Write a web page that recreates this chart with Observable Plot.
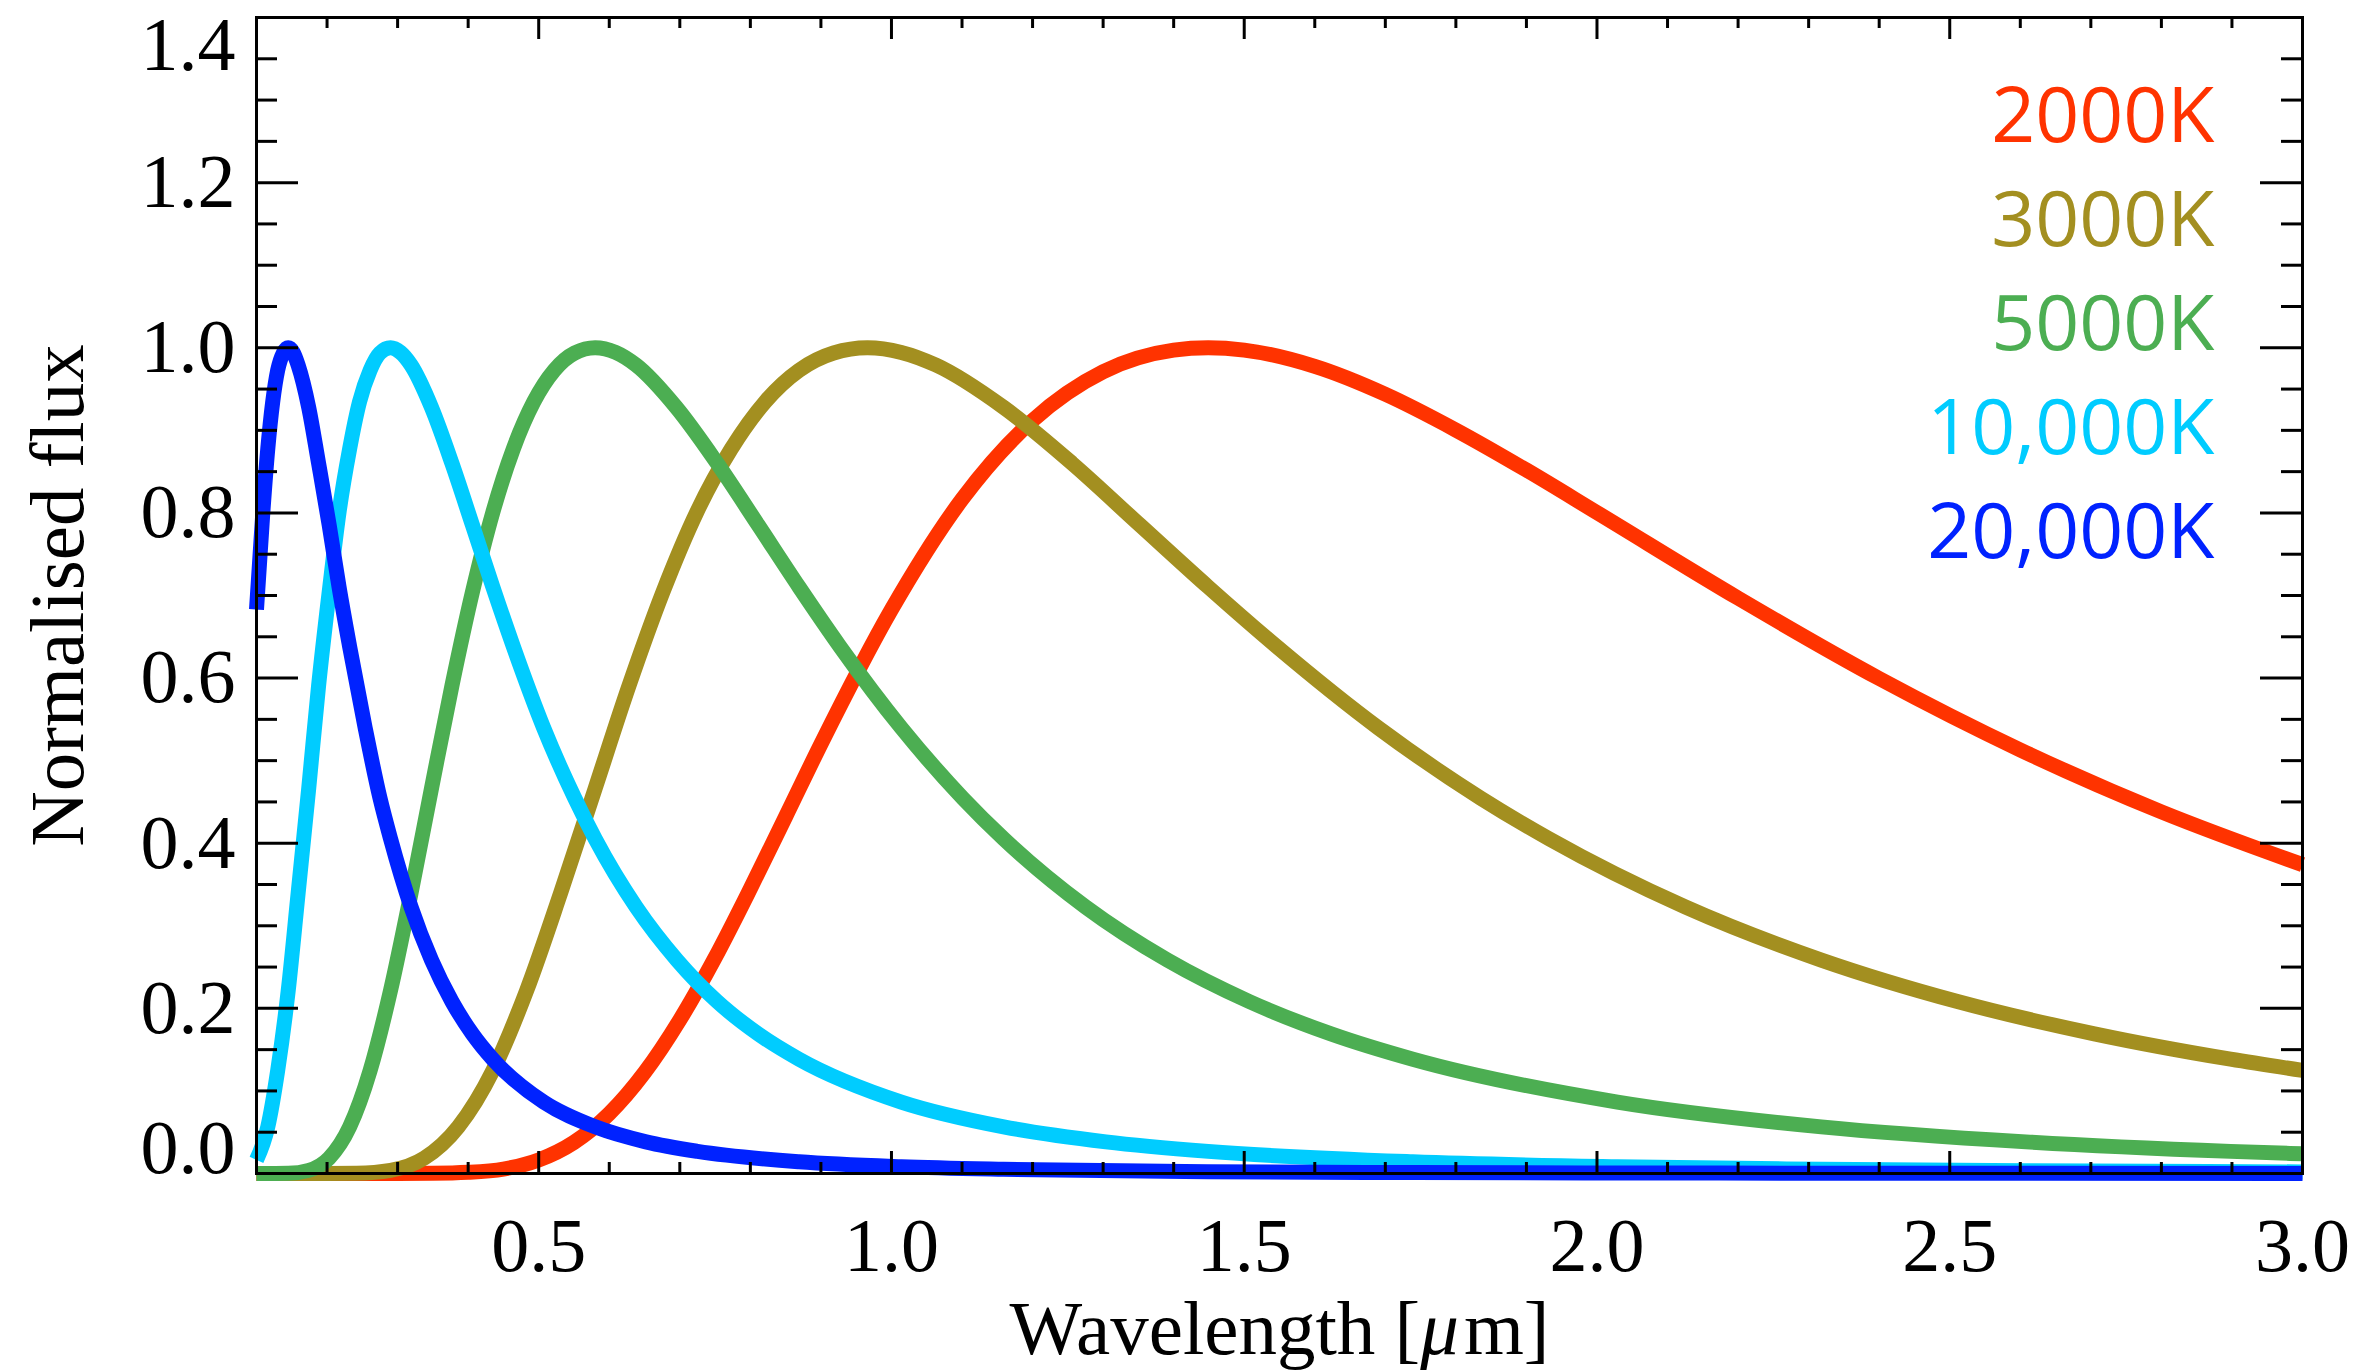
<!DOCTYPE html>
<html>
<head>
<meta charset="utf-8">
<script src="https://cdn.jsdelivr.net/npm/d3@7"></script>
<script src="https://cdn.jsdelivr.net/npm/@observablehq/plot@0.6"></script>
<style>
  html, body { margin: 0; padding: 0; background: #fff; }
  #chart svg { display: block; }
</style>
</head>
<body>
<div id="chart"></div>
<script>
// ---- Data ----
const temperatures = ["2000K", "3000K", "5000K", "10,000K", "20,000K"];
const seriesColors = ["#ff3300", "#a38f20", "#4cae52", "#00ccff", "#0022ff"];

const wl2000   = [0.10, 0.20, 0.30, 0.35, 0.40, 0.45, 0.50, 0.55, 0.60, 0.65, 0.70, 0.75, 0.80, 0.85, 0.90, 1.00, 1.10, 1.20, 1.30, 1.40, 1.449, 1.50, 1.60, 1.70, 1.80, 1.90, 2.00, 2.20, 2.40, 2.60, 2.80, 3.00];
const flux2000 = [0.0, 0.0, 0.0, 0.0002, 0.0014, 0.0054, 0.0164, 0.0377, 0.0725, 0.1222, 0.186, 0.2614, 0.345, 0.4322, 0.520, 0.683, 0.8165, 0.912, 0.971, 0.9971, 1.0, 0.9972, 0.9775, 0.9437, 0.9004, 0.8519, 0.8004, 0.6968, 0.5995, 0.513, 0.438, 0.374];

const wl3000   = [0.100, 0.200, 0.242, 0.290, 0.338, 0.386, 0.435, 0.483, 0.531, 0.580, 0.628, 0.676, 0.724, 0.773, 0.821, 0.869, 0.918, 0.966, 1.014, 1.063, 1.159, 1.256, 1.352, 1.449, 1.546, 1.690, 1.835, 1.932, 2.125, 2.318, 2.511, 2.705, 2.898, 3.000];
const flux3000 = [0.0, 0.0, 0.0003, 0.0038, 0.0187, 0.0565, 0.1246, 0.2218, 0.3395, 0.4663, 0.5908, 0.7041, 0.8009, 0.8777, 0.9346, 0.9727, 0.9937, 1.0, 0.9944, 0.9791, 0.9278, 0.8601, 0.7855, 0.7103, 0.6382, 0.5397, 0.4547, 0.4054, 0.3229, 0.2585, 0.2083, 0.1691, 0.1384, 0.1248];

const wl5000   = [0.100, 0.145, 0.174, 0.203, 0.232, 0.261, 0.290, 0.319, 0.348, 0.377, 0.406, 0.435, 0.464, 0.493, 0.522, 0.551, 0.580, 0.609, 0.638, 0.695, 0.753, 0.811, 0.869, 0.927, 1.014, 1.101, 1.159, 1.275, 1.391, 1.507, 1.623, 1.739, 2.029, 2.318, 2.608, 2.898, 3.000];
const flux5000 = [0.0, 0.0003, 0.0038, 0.0187, 0.0565, 0.1246, 0.2218, 0.3395, 0.4663, 0.5908, 0.7041, 0.8009, 0.8777, 0.9346, 0.9727, 0.9937, 1.0, 0.9944, 0.9791, 0.9278, 0.8601, 0.7855, 0.7103, 0.6382, 0.5397, 0.4547, 0.4054, 0.3229, 0.2585, 0.2083, 0.1691, 0.1384, 0.0865, 0.0565, 0.0383, 0.0268, 0.0238];

const wl10000   = [0.100, 0.116, 0.130, 0.145, 0.159, 0.174, 0.188, 0.203, 0.217, 0.232, 0.246, 0.261, 0.275, 0.290, 0.304, 0.319, 0.348, 0.377, 0.406, 0.435, 0.464, 0.507, 0.551, 0.580, 0.638, 0.696, 0.753, 0.811, 0.869, 1.014, 1.159, 1.304, 1.449, 1.739, 2.029, 2.318, 2.608, 3.000];
const flux10000 = [0.0164, 0.0565, 0.1246, 0.2218, 0.3395, 0.4663, 0.5908, 0.7041, 0.8009, 0.8777, 0.9346, 0.9727, 0.9937, 1.0, 0.9944, 0.9791, 0.9278, 0.8601, 0.7855, 0.7103, 0.6382, 0.5397, 0.4547, 0.4054, 0.3229, 0.2585, 0.2083, 0.1691, 0.1384, 0.0865, 0.0565, 0.0383, 0.0268, 0.0142, 0.0082, 0.0051, 0.0033, 0.0019];

const wl20000   = [0.100, 0.109, 0.116, 0.123, 0.130, 0.138, 0.145, 0.152, 0.159, 0.174, 0.188, 0.203, 0.217, 0.232, 0.254, 0.275, 0.290, 0.319, 0.348, 0.377, 0.406, 0.435, 0.507, 0.580, 0.652, 0.725, 0.869, 1.014, 1.159, 1.449, 1.739, 2.173, 3.000];
const flux20000 = [0.683, 0.8009, 0.8777, 0.9346, 0.9727, 0.9937, 1.0, 0.9944, 0.9791, 0.9278, 0.8601, 0.7855, 0.7103, 0.6382, 0.5397, 0.4547, 0.4054, 0.3229, 0.2585, 0.2083, 0.1691, 0.1384, 0.0865, 0.0565, 0.0383, 0.0268, 0.0142, 0.0082, 0.0051, 0.0022, 0.0011, 0.0005, 0.0001];

const xTickLabels = [0.5, 1.0, 1.5, 2.0, 2.5, 3.0];
const xMinorTicks = [0.2, 0.3, 0.4, 0.6, 0.7, 0.8, 0.9, 1.1, 1.2, 1.3, 1.4, 1.6, 1.7, 1.8, 1.9, 2.1, 2.2, 2.3, 2.4, 2.6, 2.7, 2.8, 2.9];
const yTickLabels = [0.0, 0.2, 0.4, 0.6, 0.8, 1.0, 1.2, 1.4];
const yMinorTicks = [0.05, 0.1, 0.15, 0.25, 0.3, 0.35, 0.45, 0.5, 0.55, 0.65, 0.7, 0.75, 0.85, 0.9, 0.95, 1.05, 1.1, 1.15, 1.25, 1.3, 1.35];
const xTitle = "Wavelength [μm]";
const yTitle = "Normalised flux";

// ---- Build table ----
const seriesArrays = [[wl2000, flux2000], [wl3000, flux3000], [wl5000, flux5000], [wl10000, flux10000], [wl20000, flux20000]];
const rows = [];
seriesArrays.forEach(([wl, fl], i) => wl.forEach((w, j) => rows.push({wl: w, flux: fl[j], T: temperatures[i]})));

// ---- Layout ----
const W = 2377, H = 1370;
const mL = 256, mR = 75, mT = 17, mB = 197;
const innerW = W - mL - mR, innerH = H - mT - mB;
const serif = "'Liberation Serif', 'Times New Roman', Times, serif";
const sans = "'Open Sans', 'Noto Sans', sans-serif";
const fmt = d => d.toFixed(1);
const tickStyle = {stroke: "black", strokeWidth: 3};
const yLabelStyle = {y: d => d, text: fmt, frameAnchor: "left", dx: -21, textAnchor: "end", fontSize: 76, fontFamily: serif, fill: "black"};

const marks = [
  ...temperatures.map((t, i) => Plot.line(rows.filter(r => r.T === t), {
    x: "wl", y: "flux", stroke: seriesColors[i], strokeWidth: 15,
    strokeLinecap: "butt", strokeLinejoin: "round", curve: "monotone-x"
  })),
  Plot.frame({stroke: "black", strokeWidth: 3}),
  // bottom & top ticks
  Plot.tickX(xMinorTicks, {x: d => d, insetTop: innerH - 11, ...tickStyle}),
  Plot.tickX(xTickLabels, {x: d => d, insetTop: innerH - 22, ...tickStyle}),
  Plot.tickX(xMinorTicks, {x: d => d, insetBottom: innerH - 11, ...tickStyle}),
  Plot.tickX(xTickLabels, {x: d => d, insetBottom: innerH - 22, ...tickStyle}),
  // left & right ticks
  Plot.tickY(yMinorTicks, {y: d => d, insetRight: innerW - 21, ...tickStyle}),
  Plot.tickY(yTickLabels, {y: d => d, insetRight: innerW - 42, ...tickStyle}),
  Plot.tickY(yMinorTicks, {y: d => d, insetLeft: innerW - 21, ...tickStyle}),
  Plot.tickY(yTickLabels, {y: d => d, insetLeft: innerW - 42, ...tickStyle}),
  // x tick labels
  Plot.text(xTickLabels, {x: d => d, text: fmt, frameAnchor: "bottom", dy: 97, lineAnchor: "bottom",
    fontSize: 76, fontFamily: serif, fill: "black"}),
  // y tick labels (end labels are pulled inside the frame as in the original)
  Plot.text(yTickLabels.slice(1, -1), {...yLabelStyle, lineAnchor: "middle"}),
  Plot.text(yTickLabels.slice(0, 1), {...yLabelStyle, lineAnchor: "middle", dy: -25}),
  Plot.text(yTickLabels.slice(-1), {...yLabelStyle, lineAnchor: "middle", dy: 28}),
  // axis titles
  Plot.text([xTitle], {text: d => d, frameAnchor: "bottom", dy: 180, lineAnchor: "bottom", textAnchor: "middle",
    fontSize: 77, fontFamily: serif, fill: "black"}),
  Plot.text([yTitle], {text: d => d, frameAnchor: "left", dx: -174, rotate: -90, lineAnchor: "bottom", textAnchor: "middle",
    fontSize: 77, fontFamily: serif, fill: "black"}),
  // legend labels
  ...temperatures.map((t, i) => Plot.text([t], {text: d => d, frameAnchor: "top-right", dx: -88, dy: 124 + i * 104,
    textAnchor: "end", lineAnchor: "bottom", fontSize: 77, fontFamily: sans, fill: seriesColors[i]}))
];

const svg = Plot.plot({
  width: W, height: H,
  marginLeft: mL, marginRight: mR, marginTop: mT, marginBottom: mB,
  x: {domain: [0.1, 3.0], axis: null},
  y: {domain: [0, 1.4], axis: null},
  style: {background: "white", overflow: "visible"},
  marks
});

// italic mu in the x title
svg.querySelectorAll("text").forEach(t => {
  if (t.textContent === xTitle) {
    const NS = "http://www.w3.org/2000/svg";
    t.textContent = "";
    const a = document.createElementNS(NS, "tspan"); a.textContent = "Wavelength [";
    const b = document.createElementNS(NS, "tspan"); b.textContent = "μ"; b.setAttribute("font-style", "italic");
    const c = document.createElementNS(NS, "tspan"); c.textContent = "m]"; c.setAttribute("dx", "5");
    t.append(a, b, c);
  }
});

document.getElementById("chart").appendChild(svg);
</script>
</body>
</html>
